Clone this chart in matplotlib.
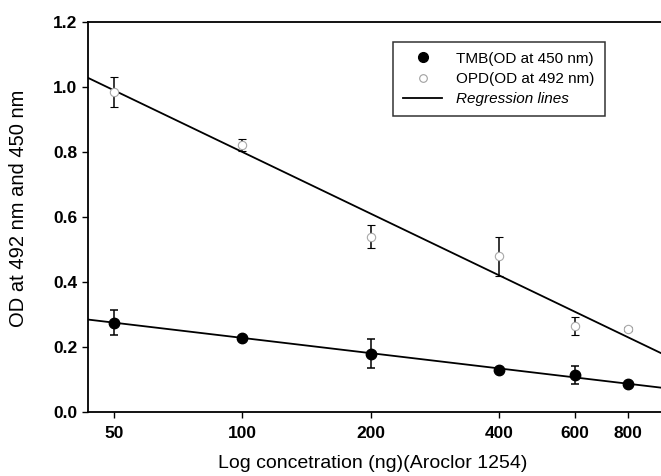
import numpy as np
import matplotlib
matplotlib.use("Agg")
import matplotlib.pyplot as plt
from matplotlib.lines import Line2D
from matplotlib.ticker import FixedLocator, NullLocator

plt.rcParams['font.family'] = ['Liberation Sans', 'DejaVu Sans']

# concentrations (ng)
conc = [50, 100, 200, 400, 600, 800]

# TMB (OD at 450 nm)
tmb = [0.275, 0.228, 0.180, 0.130, 0.115, 0.087]
tmb_err = [0.038, 0.0, 0.045, 0.0, 0.028, 0.0]

# OPD (OD at 492 nm)
opd = [0.985, 0.822, 0.540, 0.480, 0.265, 0.255]
opd_err = [0.045, 0.018, 0.035, 0.060, 0.028, 0.006]

# regression lines: OD = intercept + slope * log2(conc / 100)
tmb_fit = (-0.047, 0.228)
opd_fit = (-0.190, 0.800)

x_ticks = [50, 100, 200, 400, 600, 800]
x_lim = (43.5, 956)

fig = plt.figure(figsize=(6.61, 4.76), dpi=100)
ax = fig.add_axes([88 / 661, 1 - 412 / 476, 1 - 88 / 661, 390 / 476])

xx = np.geomspace(x_lim[0], x_lim[1], 200)
for slope, icpt in (tmb_fit, opd_fit):
    ax.plot(xx, icpt + slope * np.log2(xx / 100), color='black', lw=1.3, zorder=2)

ax.errorbar(conc, opd, yerr=opd_err, fmt='o', ms=6, mfc='white', mec='#a8a8a8',
            mew=0.8, ecolor='black', elinewidth=1.1, capsize=3, capthick=1.1, zorder=3)
ax.errorbar(conc, tmb, yerr=tmb_err, fmt='o', ms=7.5, color='black',
            ecolor='black', elinewidth=1.1, capsize=3, capthick=1.1, zorder=4)

ax.set_xscale('log')
ax.set_xlim(*x_lim)
ax.set_ylim(0, 1.2)
ax.xaxis.set_major_locator(FixedLocator(x_ticks))
ax.xaxis.set_minor_locator(NullLocator())
ax.set_xticklabels([str(t) for t in x_ticks])
ax.set_yticks(np.arange(0, 1.21, 0.2))
ax.set_yticklabels(['%.1f' % v for v in np.arange(0, 1.21, 0.2)])
ax.tick_params(direction='out', length=4, width=1, labelsize=12.5)
ax.tick_params(axis='x', pad=6)
for lab in ax.get_xticklabels() + ax.get_yticklabels():
    lab.set_fontweight('bold')
ax.spines['right'].set_visible(False)
for s in ('left', 'bottom', 'top'):
    ax.spines[s].set_linewidth(1.3)

ax.set_ylabel('OD at 492 nm and 450 nm', fontsize=14.5)
ax.yaxis.set_label_coords(-0.105, 0.523)
ax.set_xlabel('Log concetration (ng)(Aroclor 1254)', fontsize=14)
ax.xaxis.set_label_coords(0.497, -0.11)

handles = [
    Line2D([], [], marker='o', ls='none', color='black', ms=7),
    Line2D([], [], marker='o', ls='none', mfc='white', mec='#a0a0a0', ms=5.5, mew=0.8),
    Line2D([], [], color='black', lw=1.3),
]
labels = ['TMB(OD at 450 nm)', 'OPD(OD at 492 nm)', 'Regression lines']
leg = ax.legend(handles, labels, loc='upper left', bbox_to_anchor=(0.532, 0.949),
                borderaxespad=0, fontsize=11, frameon=True, fancybox=False,
                edgecolor='black', handlelength=2.6, handletextpad=0.9,
                borderpad=0.65, labelspacing=0.4)
leg.get_frame().set_linewidth(1.1)
leg.get_texts()[2].set_style('italic')

fig.savefig('out.png', dpi=100)
